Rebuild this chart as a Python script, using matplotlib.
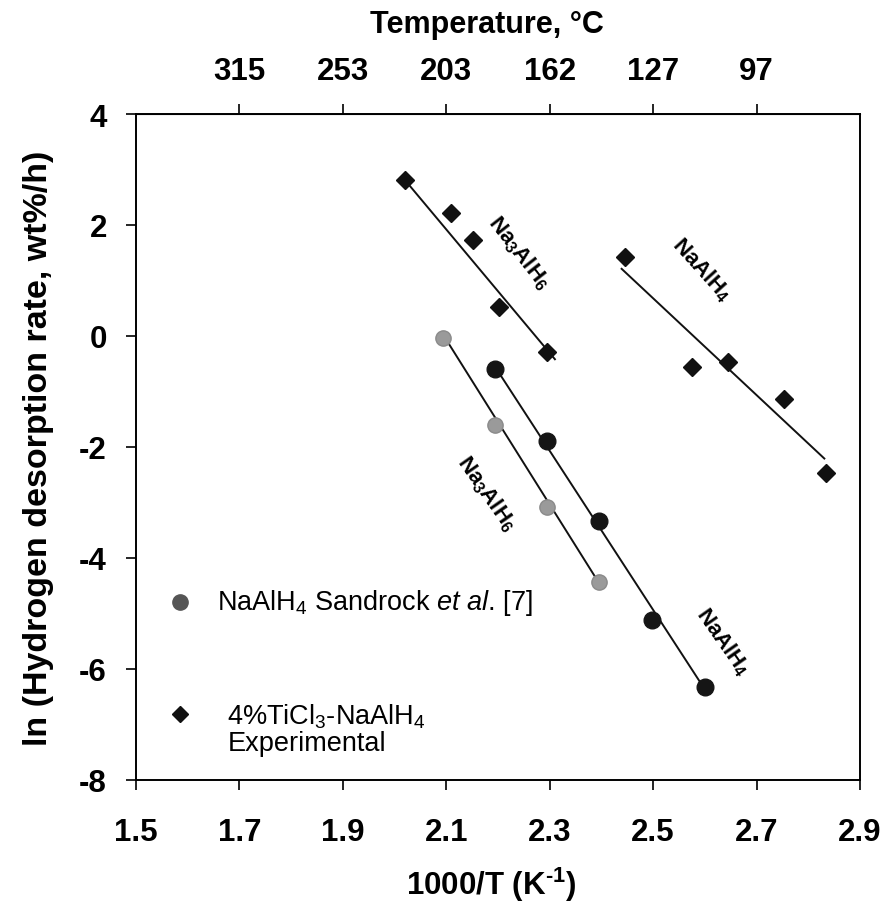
import matplotlib
matplotlib.use("Agg")
import matplotlib.pyplot as plt

plt.rcParams['font.family'] = ['Liberation Sans', 'DejaVu Sans']
plt.rcParams['mathtext.fontset'] = 'custom'
plt.rcParams['mathtext.rm'] = 'Liberation Sans'
plt.rcParams['mathtext.it'] = 'Liberation Sans:italic'
plt.rcParams['mathtext.bf'] = 'Liberation Sans:bold'

# ---- data (x = 1000/T, y = ln rate) ----
exp_na3alh6_x = [2.020, 2.109, 2.152, 2.201, 2.294]
exp_na3alh6_y = [2.81, 2.21, 1.73, 0.52, -0.29]

exp_naalh4_x = [2.446, 2.575, 2.644, 2.753, 2.834]
exp_naalh4_y = [1.43, -0.56, -0.47, -1.14, -2.47]

sand_na3alh6_x = [2.094, 2.194, 2.294, 2.396]
sand_na3alh6_y = [-0.03, -1.61, -3.09, -4.43]

sand_naalh4_x = [2.194, 2.294, 2.396, 2.497, 2.601]
sand_naalh4_y = [-0.60, -1.89, -3.33, -5.12, -6.32]

# fitted lines: x range and y at both ends
fit_exp_na3alh6 = ([2.020, 2.310], [2.81, -0.42])
fit_exp_naalh4 = ([2.439, 2.831], [1.21, -2.21])
fit_sand_na3alh6 = ([2.098, 2.397], [-0.04, -4.48])
fit_sand_naalh4 = ([2.198, 2.597], [-0.61, -6.33])

x_ticks = [1.5, 1.7, 1.9, 2.1, 2.3, 2.5, 2.7, 2.9]
y_ticks = [-8, -6, -4, -2, 0, 2, 4]
top_tick_pos = [1.7, 1.9, 2.1, 2.3, 2.5, 2.7]
top_tick_labels = ['315', '253', '203', '162', '127', '97']

TICK_SIZE = 22.5

fig = plt.figure(figsize=(8.88, 9.03), dpi=100)
ax = fig.add_axes([0.1532, 0.1354, 0.8153, 0.7372])

for (xs, ys) in [fit_exp_na3alh6, fit_exp_naalh4, fit_sand_na3alh6, fit_sand_naalh4]:
    ax.plot(xs, ys, color='#111111', lw=1.4, zorder=2)

ax.plot(exp_na3alh6_x, exp_na3alh6_y, 'D', color='#111111', ms=9.5, zorder=3, ls='none')
ax.plot(exp_naalh4_x, exp_naalh4_y, 'D', color='#111111', ms=9.5, zorder=3, ls='none')
ax.plot(sand_na3alh6_x, sand_na3alh6_y, 'o', color='#9a9a9a', mec='#8a8a8a', ms=11, zorder=3, ls='none')
ax.plot(sand_naalh4_x, sand_naalh4_y, 'o', color='#151515', ms=12, zorder=3, ls='none')

ax.set_xlim(1.5, 2.9)
ax.set_ylim(-8, 4)
ax.set_xticks(x_ticks)
ax.set_xticklabels([f"{v:.1f}" for v in x_ticks])
ax.set_yticks(y_ticks)
ax.set_yticklabels([str(v) for v in y_ticks])
ax.tick_params(direction='out', length=7, width=1.2)
ax.tick_params(axis='x', pad=20)
ax.tick_params(axis='y', pad=14)
for lab in ax.get_xticklabels() + ax.get_yticklabels():
    lab.set_fontweight('bold')
    lab.set_fontsize(TICK_SIZE)
for sp in ax.spines.values():
    sp.set_linewidth(1.4)

ax.set_xlabel('1000/T (K$^{\\mathbf{\u2010}\\mathbf{1}}$)', fontsize=22.5, fontweight='bold')
ax.xaxis.set_label_coords(0.490, -0.127)
ax.set_ylabel('ln (Hydrogen desorption rate, wt%/h)', fontsize=24.5, fontweight='bold')
ax.yaxis.set_label_coords(-0.113, 0.5)

sec = ax.secondary_xaxis('top')
sec.set_xticks(top_tick_pos)
sec.set_xticklabels(top_tick_labels)
sec.tick_params(direction='out', length=7, width=1.2, pad=13)
for lab in sec.get_xticklabels():
    lab.set_fontweight('bold')
    lab.set_fontsize(TICK_SIZE)
fig.text(487 / 888, 1 - 25 / 903, 'Temperature, °C', fontsize=22, fontweight='bold',
         ha='center', va='center')

# curve labels
ax.text(2.240, 1.52, r'Na$_\mathbf{3}$AlH$_\mathbf{6}$', rotation=-52, fontsize=16, fontweight='bold',
        ha='center', va='center')
ax.text(2.594, 1.20, r'NaAlH$_\mathbf{4}$', rotation=-48, fontsize=16, fontweight='bold',
        ha='center', va='center')
ax.text(2.178, -2.82, r'Na$_\mathbf{3}$AlH$_\mathbf{6}$', rotation=-55, fontsize=16, fontweight='bold',
        ha='center', va='center')
ax.text(2.634, -5.50, r'NaAlH$_\mathbf{4}$', rotation=-55, fontsize=16, fontweight='bold',
        ha='center', va='center')

# legend
ax.plot([0.061], [0.267], 'o', color='#555555', ms=11, transform=ax.transAxes, clip_on=False)
ax.text(0.112, 0.267, r'NaAlH$_4$ Sandrock $\mathit{et\ al}$. [7]', transform=ax.transAxes,
        fontsize=19.5, va='center', ha='left')
ax.plot([0.061], [0.099], 'D', color='#111111', ms=8, transform=ax.transAxes, clip_on=False)
ax.text(0.126, 0.096, r'4%TiCl$_3$-NaAlH$_4$', transform=ax.transAxes,
        fontsize=19.5, va='center', ha='left')
ax.text(0.126, 0.055, 'Experimental', transform=ax.transAxes,
        fontsize=19.5, va='center', ha='left')

fig.savefig('out.png', dpi=100)
